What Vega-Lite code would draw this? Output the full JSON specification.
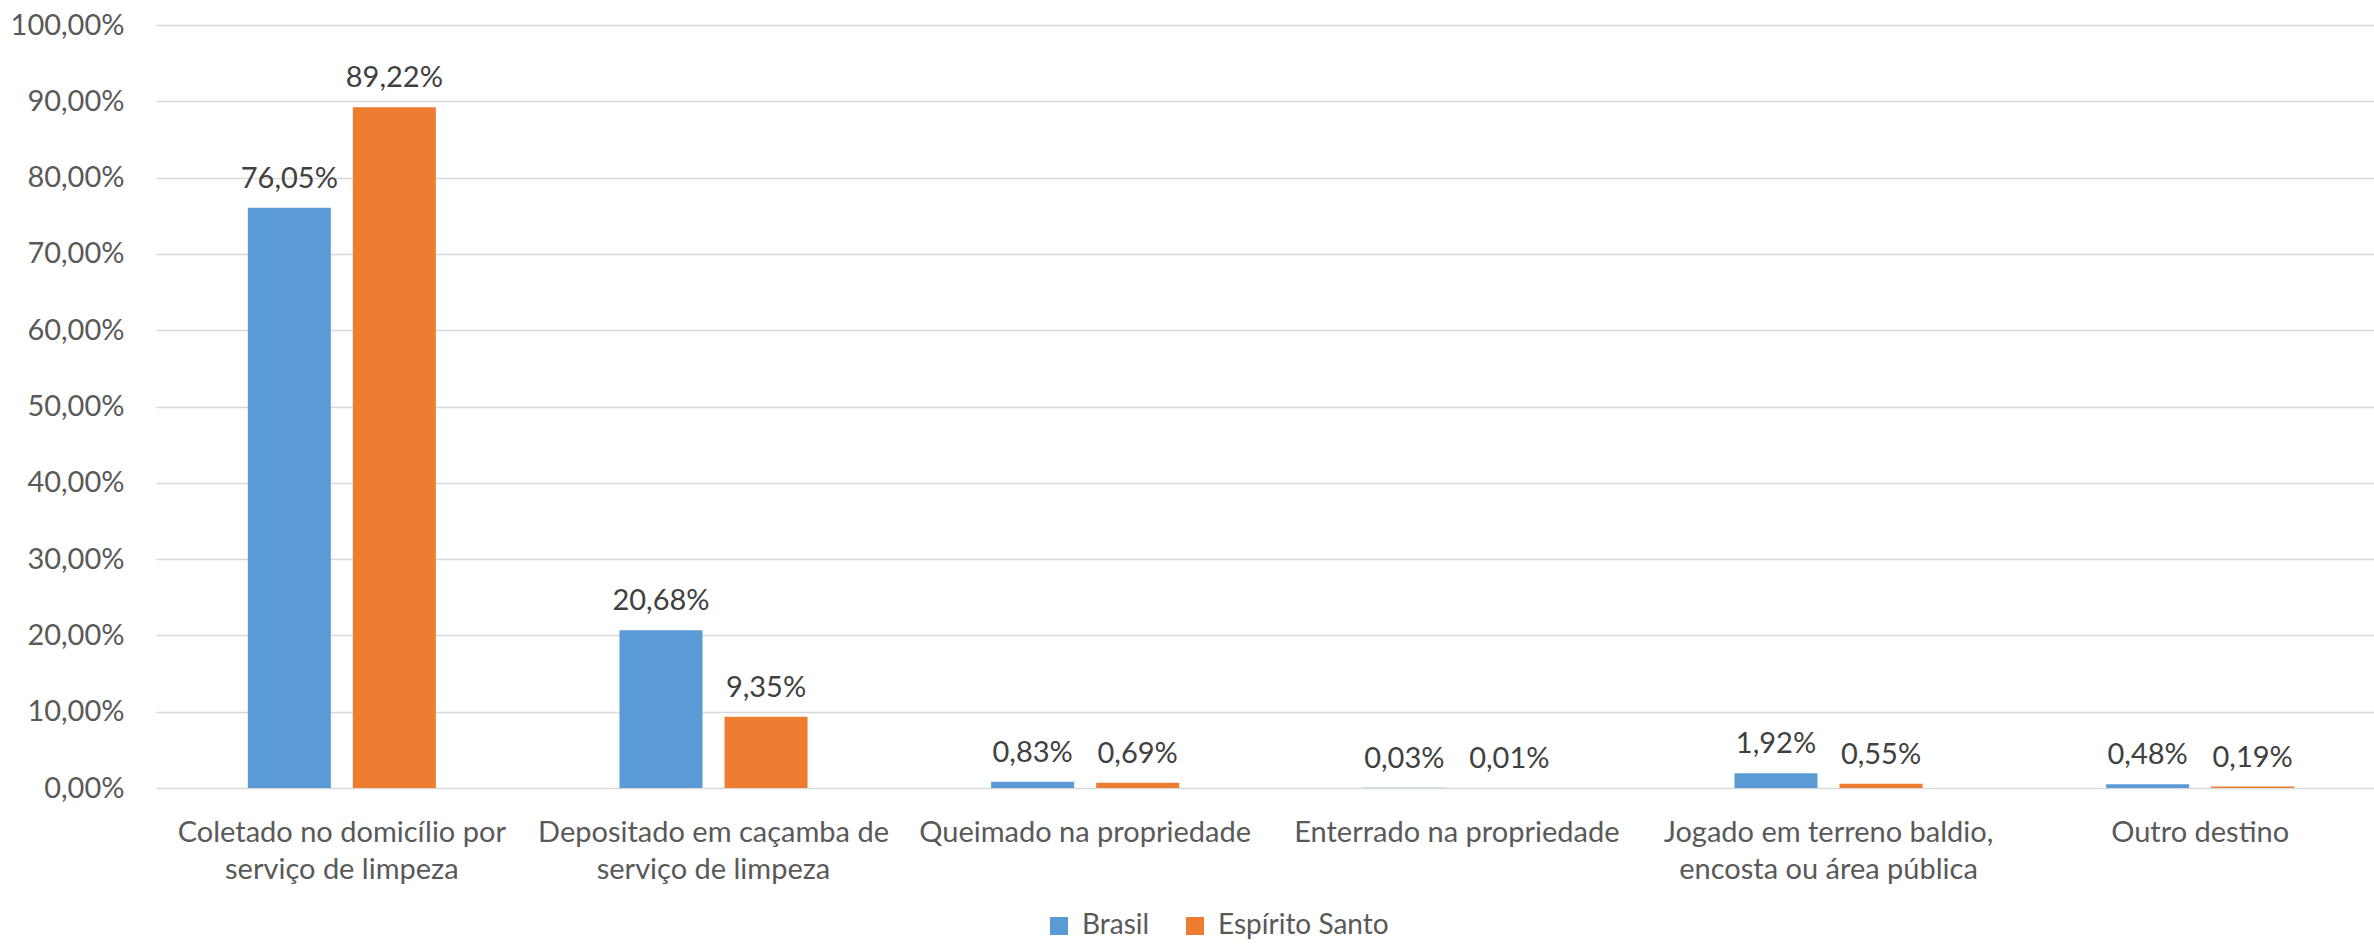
{
  "$schema": "https://vega.github.io/schema/vega-lite/v6.json",
  "width": 2230,
  "height": 763,
  "autosize": "none",
  "padding": {"left": 156, "top": 25, "right": 0, "bottom": 157},
  "background": "white",
  "config": {
    "view": {"stroke": null},
    "font": "Lato",
    "axis": {"labelFont": "Lato", "labelFontSize": 29, "labelColor": "#595959"}
  },
  "data": {
    "values": [
      {"cat": "Coletado no domicílio por|serviço de limpeza", "serie": "Brasil", "v": 76.05},
      {"cat": "Coletado no domicílio por|serviço de limpeza", "serie": "Espírito Santo", "v": 89.22},
      {"cat": "Depositado em caçamba de|serviço de limpeza", "serie": "Brasil", "v": 20.68},
      {"cat": "Depositado em caçamba de|serviço de limpeza", "serie": "Espírito Santo", "v": 9.35},
      {"cat": "Queimado na propriedade", "serie": "Brasil", "v": 0.83},
      {"cat": "Queimado na propriedade", "serie": "Espírito Santo", "v": 0.69},
      {"cat": "Enterrado na propriedade", "serie": "Brasil", "v": 0.03},
      {"cat": "Enterrado na propriedade", "serie": "Espírito Santo", "v": 0.01},
      {"cat": "Jogado em terreno baldio,|encosta ou área pública", "serie": "Brasil", "v": 1.92},
      {"cat": "Jogado em terreno baldio,|encosta ou área pública", "serie": "Espírito Santo", "v": 0.55},
      {"cat": "Outro destino", "serie": "Brasil", "v": 0.48},
      {"cat": "Outro destino", "serie": "Espírito Santo", "v": 0.19}
    ]
  },
  "encoding": {
    "x": {
      "field": "cat", "type": "nominal", "sort": null, "title": null,
      "scale": {"paddingInner": 0.494, "paddingOuter": 0.247},
      "axis": {
        "labelAngle": 0, "domain": false, "ticks": false, "tickSize": 0,
        "labelPadding": 30, "labelLineHeight": 37, "labelLimit": 0,
        "labelExpr": "split(datum.value, '|')"
      }
    },
    "xOffset": {
      "field": "serie", "type": "nominal", "sort": ["Brasil", "Espírito Santo"],
      "scale": {"paddingInner": 0.2095, "paddingOuter": 0}
    },
    "y": {
      "field": "v", "type": "quantitative", "title": null,
      "scale": {"domain": [0, 100], "nice": false},
      "axis": {
        "values": [0, 10, 20, 30, 40, 50, 60, 70, 80, 90, 100],
        "domain": false, "ticks": false, "tickSize": 0, "labelPadding": 32,
        "grid": true, "gridColor": "#d9d9d9", "gridWidth": 1.5,
        "labelExpr": "replace(format(datum.value, '.2f'), '.', ',') + '%'"
      }
    }
  },
  "layer": [
    {
      "mark": {"type": "bar"},
      "encoding": {
        "color": {
          "field": "serie", "type": "nominal", "title": null,
          "scale": {"domain": ["Brasil", "Espírito Santo"], "range": ["#5B9BD5", "#ED7D31"]},
          "legend": {
            "orient": "none", "direction": "horizontal",
            "legendX": 889, "legendY": 887,
            "symbolType": "square", "symbolSize": 324, "symbolStrokeWidth": 0,
            "labelFont": "Lato", "labelFontSize": 28, "labelColor": "#595959",
            "labelOffset": 9, "columnPadding": 31, "padding": 0, "labelLimit": 0
          }
        }
      }
    },
    {
      "mark": {"type": "text", "baseline": "alphabetic", "dy": -20, "fontSize": 29, "font": "Lato", "color": "#404040"},
      "encoding": {
        "text": {"field": "lbl", "type": "nominal"}
      },
      "transform": [
        {"calculate": "replace(format(datum.v, '.2f'), '.', ',') + '%'", "as": "lbl"}
      ]
    }
  ]
}
